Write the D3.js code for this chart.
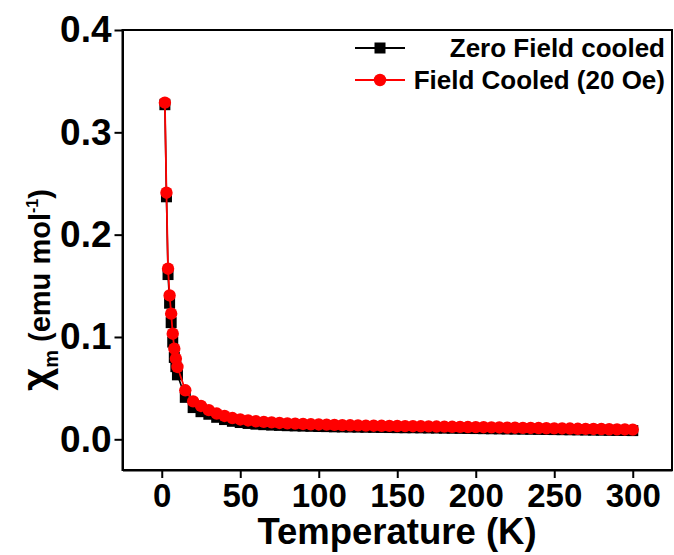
<!DOCTYPE html>
<html>
<head>
<meta charset="utf-8">
<script src="https://cdn.jsdelivr.net/npm/d3@7/dist/d3.min.js"></script>
<style>
  html, body { margin: 0; padding: 0; background: #fff; }
  svg { display: block; }
  text { font-family: "Liberation Sans", Arial, sans-serif; font-weight: bold; fill: #000; }
</style>
</head>
<body>
<svg id="chart" width="674" height="555"></svg>
<script>
// Temperature points (K)
const temperature = [2, 3, 4, 5, 6, 7, 8, 9, 10, 15, 20, 25,
  30, 35, 40, 45, 50, 55, 60, 65, 70, 75, 80, 85, 90, 95, 100,
  105, 110, 115, 120, 125, 130, 135, 140, 145, 150, 155, 160, 165, 170, 175, 180,
  185, 190, 195, 200, 205, 210, 215, 220, 225, 230, 235, 240, 245, 250,
  255, 260, 265, 270, 275, 280, 285, 290, 295, 300];

// Field cooled, 20 Oe (emu/mol)
const chiFC = [0.329, 0.241, 0.1667, 0.1406, 0.1228, 0.1032, 0.0886, 0.0788, 0.0707, 0.0479, 0.0371, 0.0326,
  0.0285, 0.0252, 0.0228, 0.0208, 0.0194, 0.0184, 0.0176, 0.0170, 0.0165, 0.0160, 0.0156, 0.0153, 0.0150, 0.0147, 0.0145,
  0.0143, 0.0141, 0.0139, 0.0137, 0.0136, 0.0134, 0.0133, 0.0132, 0.0131, 0.0130, 0.0129, 0.0128, 0.0127, 0.0126, 0.0125, 0.0124,
  0.0122, 0.0121, 0.0120, 0.0119, 0.0118, 0.0117, 0.0116, 0.0114, 0.0113, 0.0112, 0.0111, 0.0110, 0.0108, 0.0107,
  0.0106, 0.0105, 0.0103, 0.0102, 0.0101, 0.0100, 0.0098, 0.0097, 0.0096, 0.0095];

// Zero field cooled (emu/mol)
const chiZFC = [0.327, 0.237, 0.161, 0.133, 0.114, 0.095, 0.080, 0.071, 0.063, 0.041, 0.031, 0.027,
  0.0245, 0.0215, 0.0193, 0.0176, 0.0164, 0.0155, 0.0148, 0.0143, 0.0139, 0.0136, 0.0133, 0.0131, 0.0129, 0.0127, 0.0125,
  0.0124, 0.0122, 0.0121, 0.0120, 0.0119, 0.0118, 0.0117, 0.0116, 0.0115, 0.0114, 0.0113, 0.0113, 0.0112, 0.0111, 0.0110, 0.0109,
  0.0108, 0.0107, 0.0106, 0.0105, 0.0104, 0.0103, 0.0102, 0.0101, 0.0100, 0.0099, 0.0098, 0.0097, 0.0096, 0.0095,
  0.0094, 0.0093, 0.0092, 0.0091, 0.0090, 0.0089, 0.0088, 0.0087, 0.0086, 0.0085];

const xTicks = [0, 50, 100, 150, 200, 250, 300];
const yTicks = [0.0, 0.1, 0.2, 0.3, 0.4];
const seriesNames = ["Zero Field cooled", "Field Cooled (20 Oe)"];

const svg = d3.select("#chart");
const box = { left: 122.5, right: 672, top: 30, bottom: 470 };

const x = d3.scaleLinear().domain([-25, 325]).range([box.left, box.right]);
const y = d3.scaleLinear().domain([-0.03, 0.4]).range([box.bottom, box.top]);

// frame
svg.append("rect")
  .attr("x", box.left).attr("y", box.top)
  .attr("width", box.right - box.left).attr("height", box.bottom - box.top)
  .attr("fill", "none").attr("stroke", "#000").attr("stroke-width", 2);

// axes
const xAxis = svg.append("g")
  .attr("transform", `translate(0,${box.bottom})`)
  .call(d3.axisBottom(x).tickValues(xTicks).tickSize(8).tickSizeOuter(0).tickPadding(6).tickFormat(d3.format("d")));
const yAxis = svg.append("g")
  .attr("transform", `translate(${box.left},0)`)
  .call(d3.axisLeft(y).tickValues(yTicks).tickSize(8).tickSizeOuter(0).tickPadding(3).tickFormat(d3.format(".1f")));

[xAxis, yAxis].forEach(g => {
  g.select(".domain").attr("stroke-width", 2);
  g.selectAll(".tick line").attr("stroke-width", 2);
  g.selectAll(".tick text").attr("font-family", "Liberation Sans, Arial, sans-serif").attr("font-weight", "bold");
});
xAxis.selectAll(".tick text").attr("font-size", 33);
yAxis.selectAll(".tick text").attr("font-size", 37);

// series
const zfc = temperature.map((t, i) => ({ t, v: chiZFC[i] }));
const fc = temperature.map((t, i) => ({ t, v: chiFC[i] }));
const line = d3.line().x(d => x(d.t)).y(d => y(d.v));

svg.append("path").datum(zfc).attr("d", line)
  .attr("fill", "none").attr("stroke", "#000").attr("stroke-width", 1.6);
const sq = 11;
svg.append("g").selectAll("rect").data(zfc).join("rect")
  .attr("x", d => x(d.t) - sq / 2).attr("y", d => y(d.v) - sq / 2)
  .attr("width", sq).attr("height", sq).attr("fill", "#000");

svg.append("path").datum(fc).attr("d", line)
  .attr("fill", "none").attr("stroke", "#f00").attr("stroke-width", 1.8);
svg.append("g").selectAll("circle").data(fc).join("circle")
  .attr("cx", d => x(d.t)).attr("cy", d => y(d.v)).attr("r", 6.2).attr("fill", "#f00");

// legend
const legend = svg.append("g");
const legendRows = [
  { name: seriesNames[0], color: "#000", shape: "square", yy: 48 },
  { name: seriesNames[1], color: "#f00", shape: "circle", yy: 80 }
];
legendRows.forEach(r => {
  legend.append("line").attr("x1", 355).attr("x2", 405).attr("y1", r.yy).attr("y2", r.yy)
    .attr("stroke", r.color).attr("stroke-width", 1.8);
  if (r.shape === "square") {
    legend.append("rect").attr("x", 380 - sq / 2).attr("y", r.yy - sq / 2)
      .attr("width", sq).attr("height", sq).attr("fill", r.color);
  } else {
    legend.append("circle").attr("cx", 380).attr("cy", r.yy).attr("r", 6.2).attr("fill", r.color);
  }
  legend.append("text").attr("x", 665).attr("y", r.yy).attr("dy", "0.36em")
    .attr("text-anchor", "end").attr("font-size", 26).text(r.name);
});

// axis titles
svg.append("text").attr("x", 397).attr("y", 544).attr("text-anchor", "middle")
  .attr("font-size", 36.5).text("Temperature (K)");

const yt = svg.append("text").attr("transform", "translate(50,290) rotate(-90)")
  .attr("text-anchor", "middle").attr("font-size", 29);
yt.append("tspan").attr("font-size", 40).text("χ");
yt.append("tspan").attr("font-size", 20).attr("dy", 8).text("m");
yt.append("tspan").attr("dy", -8).text(" (emu mol");
yt.append("tspan").attr("font-size", 16).attr("dy", -12).text("-1");
yt.append("tspan").attr("dy", 12).text(")");
</script>
</body>
</html>
